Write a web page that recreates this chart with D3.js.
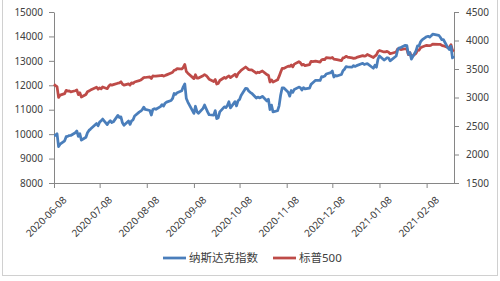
<!DOCTYPE html>
<html>
<head>
<meta charset="utf-8">
<script src="https://cdn.jsdelivr.net/npm/d3@7"></script>
<style>
  body { margin: 0; background: #fff; }
  svg text { font-family: "Noto Sans", "Noto Sans CJK SC", sans-serif; fill: #404040; }
</style>
</head>
<body>
<script>
// trading days, Nasdaq close (left axis), S&P 500 close (right axis)
var dates = [
  "2020-06-08","2020-06-09","2020-06-10","2020-06-11","2020-06-12","2020-06-15","2020-06-16","2020-06-17","2020-06-18","2020-06-19",
  "2020-06-22","2020-06-23","2020-06-24","2020-06-25","2020-06-26","2020-06-29","2020-06-30",
  "2020-07-01","2020-07-02","2020-07-06","2020-07-07","2020-07-08","2020-07-09","2020-07-10","2020-07-13","2020-07-14","2020-07-15",
  "2020-07-16","2020-07-17","2020-07-20","2020-07-21","2020-07-22","2020-07-23","2020-07-24","2020-07-27","2020-07-28","2020-07-29",
  "2020-07-30","2020-07-31",
  "2020-08-03","2020-08-04","2020-08-05","2020-08-06","2020-08-07","2020-08-10","2020-08-11","2020-08-12","2020-08-13","2020-08-14",
  "2020-08-17","2020-08-18","2020-08-19","2020-08-20","2020-08-21","2020-08-24","2020-08-25","2020-08-26","2020-08-27","2020-08-28",
  "2020-08-31",
  "2020-09-01","2020-09-02","2020-09-03","2020-09-04","2020-09-08","2020-09-09","2020-09-10","2020-09-11","2020-09-14","2020-09-15",
  "2020-09-16","2020-09-17","2020-09-18","2020-09-21","2020-09-22","2020-09-23","2020-09-24","2020-09-25","2020-09-28","2020-09-29",
  "2020-09-30",
  "2020-10-01","2020-10-02","2020-10-05","2020-10-06","2020-10-07","2020-10-08","2020-10-09","2020-10-12","2020-10-13","2020-10-14",
  "2020-10-15","2020-10-16","2020-10-19","2020-10-20","2020-10-21","2020-10-22","2020-10-23","2020-10-26","2020-10-27","2020-10-28",
  "2020-10-29","2020-10-30",
  "2020-11-02","2020-11-03","2020-11-04","2020-11-05","2020-11-06","2020-11-09","2020-11-10","2020-11-11","2020-11-12","2020-11-13",
  "2020-11-16","2020-11-17","2020-11-18","2020-11-19","2020-11-20","2020-11-23","2020-11-24","2020-11-25","2020-11-27","2020-11-30",
  "2020-12-01","2020-12-02","2020-12-03","2020-12-04","2020-12-07","2020-12-08","2020-12-09","2020-12-10","2020-12-11","2020-12-14",
  "2020-12-15","2020-12-16","2020-12-17","2020-12-18","2020-12-21","2020-12-22","2020-12-23","2020-12-24","2020-12-28","2020-12-29",
  "2020-12-30","2020-12-31",
  "2021-01-04","2021-01-05","2021-01-06","2021-01-07","2021-01-08","2021-01-11","2021-01-12","2021-01-13","2021-01-14","2021-01-15",
  "2021-01-19","2021-01-20","2021-01-21","2021-01-22","2021-01-25","2021-01-26","2021-01-27","2021-01-28","2021-01-29",
  "2021-02-01","2021-02-02","2021-02-03","2021-02-04","2021-02-05","2021-02-08","2021-02-09","2021-02-10","2021-02-11","2021-02-12",
  "2021-02-16","2021-02-17","2021-02-18","2021-02-19","2021-02-22","2021-02-23","2021-02-24","2021-02-25","2021-02-26"
];

var nasdaq = [
  9953,9954,10020,9492,9589,9726,9895,9910,9943,9946,10056,10131,9909,10017,9757,9874,10058,
  10154,10207,10433,10343,10492,10547,10617,10391,10488,10550,10474,10503,10767,10681,10706,10462,10363,10536,10402,10543,10587,10745,
  10903,10941,10998,11108,11011,10968,10782,11012,11042,11019,11129,11210,11146,11265,11312,11379,11466,11665,11625,11696,11775,
  11939,12056,11458,11313,10848,11142,10919,10854,11057,11191,11050,10910,10794,10778,10964,10633,10672,10914,11118,11086,11168,
  11327,11076,11332,11155,11364,11421,11580,11876,11864,11768,11714,11672,11479,11517,11485,11506,11548,11358,11431,11005,11186,10912,
  10957,11161,11590,11891,11895,11713,11554,11786,11710,11829,11925,11900,11802,11905,11855,11881,12037,12094,12206,12199,
  12355,12349,12377,12464,12519,12582,12339,12405,12378,12441,12595,12658,12765,12756,12742,12807,12771,12805,12900,12850,12870,12888,
  12698,12819,12741,13067,13202,13036,13072,13129,13112,12998,13197,13457,13530,13543,13636,13626,13271,13337,13070,
  13403,13612,13610,13778,13856,13987,14007,13973,14025,14095,14047,13966,13865,13874,13533,13465,13598,13119,13192
];

var sp500 = [
  3232,3207,3190,3002,3041,3067,3125,3113,3115,3098,3118,3131,3050,3084,3009,3053,3100,
  3115,3130,3180,3145,3169,3152,3185,3155,3197,3227,3216,3225,3251,3257,3276,3236,3216,3239,3218,3258,3246,3271,
  3295,3306,3327,3349,3351,3360,3333,3380,3373,3373,3382,3389,3375,3385,3397,3431,3443,3478,3485,3508,3500,
  3527,3580,3455,3427,3331,3399,3340,3341,3383,3401,3385,3357,3319,3281,3315,3237,3247,3298,3351,3335,3363,
  3380,3348,3408,3361,3419,3446,3477,3535,3512,3489,3483,3483,3427,3443,3436,3453,3465,3401,3391,3271,3310,3270,
  3310,3370,3443,3510,3509,3550,3545,3572,3537,3585,3627,3610,3568,3582,3558,3578,3635,3629,3638,3622,
  3662,3669,3666,3699,3692,3702,3673,3668,3663,3647,3695,3701,3722,3709,3695,3687,3690,3703,3735,3727,3732,3756,
  3701,3726,3748,3804,3825,3799,3801,3810,3795,3768,3799,3852,3853,3841,3855,3849,3751,3787,3714,
  3774,3826,3831,3872,3887,3916,3911,3910,3917,3935,3933,3932,3914,3907,3877,3881,3926,3829,3811
];

var xTicks = ["2020-06-08","2020-07-08","2020-08-08","2020-09-08","2020-10-08","2020-11-08","2020-12-08","2021-01-08","2021-02-08"];
var leftTicks = [8000, 9000, 10000, 11000, 12000, 13000, 14000, 15000];
var rightTicks = [1500, 2000, 2500, 3000, 3500, 4000, 4500];
var seriesNames = ["纳斯达克指数", "标普500"];
var seriesColors = ["#4A7EBB", "#BE4B48"];

var svgWidth = 500;
var svgHeight = 281;
var margin = { top: 12, right: 46, bottom: 98, left: 54 };
var width = svgWidth - margin.left - margin.right;
var height = svgHeight - margin.top - margin.bottom;

var parse = d3.timeParse("%Y-%m-%d");
var fmt = d3.timeFormat("%Y-%m-%d");

var data = dates.map(function(d, i) {
  return { date: parse(d), nasdaq: nasdaq[i], sp: sp500[i] };
});

var svg = d3.select("body")
  .append("svg")
  .attr("width", svgWidth)
  .attr("height", svgHeight);

// outer chart border
svg.append("rect")
  .attr("x", 2.5).attr("y", -5)
  .attr("width", 495).attr("height", 280.5)
  .attr("fill", "none")
  .attr("stroke", "#d0d0d0")
  .attr("stroke-width", 1);

var chartGroup = svg.append("g")
  .attr("transform", `translate(${margin.left}, ${margin.top})`);

var x = d3.scaleTime()
  .domain([parse(dates[0]), parse(dates[dates.length - 1])])
  .range([0, width]);
var yLeft = d3.scaleLinear().domain([8000, 15000]).range([height, 0]);
var yRight = d3.scaleLinear().domain([1500, 4500]).range([height, 0]);

function styleAxis(g) {
  g.select(".domain").attr("stroke", "#868686");
  g.selectAll(".tick line").attr("stroke", "#868686");
  g.selectAll("text").attr("font-size", "10px").attr("fill", "#404040");
}

chartGroup.append("g")
  .attr("transform", `translate(0, ${height})`)
  .call(d3.axisBottom(x).tickValues(xTicks.map(parse)).tickFormat(fmt).tickSize(5).tickSizeOuter(0))
  .call(styleAxis)
  .selectAll("text")
  .attr("text-anchor", "end")
  .attr("transform", "translate(2,7) rotate(-45)")
  .attr("dx", 0)
  .attr("dy", "0.71em");

chartGroup.append("g")
  .call(d3.axisLeft(yLeft).tickValues(leftTicks).tickFormat(d3.format("d")).tickSize(5).tickPadding(6).tickSizeOuter(0))
  .call(styleAxis);

chartGroup.append("g")
  .attr("transform", `translate(${width}, 0)`)
  .call(d3.axisRight(yRight).tickValues(rightTicks).tickFormat(d3.format("d")).tickSize(5).tickPadding(7).tickSizeOuter(0))
  .call(styleAxis);

var lineLeft = d3.line().x(d => x(d.date)).y(d => yLeft(d.nasdaq));
var lineRight = d3.line().x(d => x(d.date)).y(d => yRight(d.sp));

chartGroup.append("path")
  .datum(data)
  .attr("d", lineRight)
  .attr("fill", "none")
  .attr("stroke", seriesColors[1])
  .attr("stroke-width", 2.75)
  .attr("stroke-linejoin", "round");

chartGroup.append("path")
  .datum(data)
  .attr("d", lineLeft)
  .attr("fill", "none")
  .attr("stroke", seriesColors[0])
  .attr("stroke-width", 2.75)
  .attr("stroke-linejoin", "round");

// legend
var legendX = [163, 273];
var legend = svg.append("g");
seriesNames.forEach(function(name, i) {
  legend.append("line")
    .attr("x1", legendX[i]).attr("x2", legendX[i] + 23)
    .attr("y1", 258).attr("y2", 258)
    .attr("stroke", seriesColors[i])
    .attr("stroke-width", 2.75);
  legend.append("text")
    .attr("x", legendX[i] + 26)
    .attr("y", 258)
    .attr("dy", "0.35em")
    .attr("font-size", "11.5px")
    .text(name);
});
</script>
</body>
</html>
